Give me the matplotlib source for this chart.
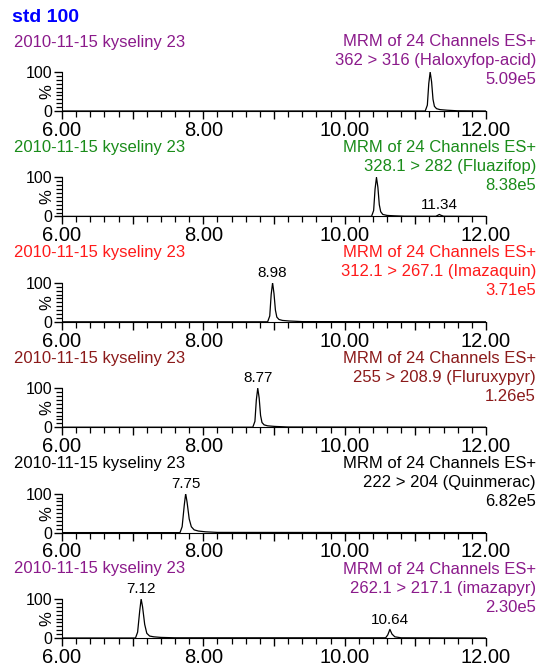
import matplotlib
matplotlib.use('Agg')
import matplotlib.pyplot as plt
from matplotlib.ticker import MultipleLocator, FixedLocator

plt.rcParams['font.family'] = ['Liberation Sans', 'DejaVu Sans']

sample_title = 'std 100'
run_name = '2010-11-15 kyseliny 23'
scan_text = 'MRM of 24 Channels ES+'

transitions = ['362 > 316 (Haloxyfop-acid)', '328.1 > 282 (Fluazifop)',
               '312.1 > 267.1 (Imazaquin)', '255 > 208.9 (Fluruxypyr)',
               '222 > 204 (Quinmerac)', '262.1 > 217.1 (imazapyr)']
intensities = ['5.09e5', '8.38e5', '3.71e5', '1.26e5', '6.82e5', '2.30e5']
colors = ['#8b1a8b', '#1a8c1a', '#ff1a1a', '#8b1a1a', '#000000', '#8b1a8b']

# retention time (min) and relative intensity (%) of each trace
trace_times = [
    [6.00, 11.14, 11.17, 11.19, 11.21, 11.23, 11.25, 11.27, 11.30, 11.35, 11.45, 11.60, 12.00],
    [6.00, 10.38, 10.41, 10.43, 10.45, 10.47, 10.49, 10.51, 10.54, 10.60, 10.70, 10.85,
     11.29, 11.32, 11.34, 11.36, 11.40, 12.00],
    [6.00, 8.91, 8.94, 8.96, 8.98, 9.00, 9.02, 9.04, 9.07, 9.12, 9.22, 9.40, 12.00],
    [6.00, 8.70, 8.73, 8.75, 8.77, 8.79, 8.81, 8.83, 8.86, 8.91, 9.01, 9.20, 12.00],
    [6.00, 7.67, 7.70, 7.73, 7.75, 7.77, 7.80, 7.83, 7.87, 7.93, 8.03, 8.20, 12.00],
    [6.00, 7.04, 7.07, 7.10, 7.12, 7.14, 7.17, 7.20, 7.24, 7.30, 7.40, 7.60,
     10.58, 10.61, 10.64, 10.67, 10.71, 10.80, 12.00],
]
trace_values = [
    [0, 0, 15, 70, 100, 75, 30, 12, 6, 3.5, 2, 0.5, 0],
    [0, 0, 15, 70, 100, 75, 30, 12, 5, 2.5, 1.5, 0.5, 0.3, 3, 5, 3, 0.5, 0],
    [0, 0, 15, 70, 100, 72, 30, 12, 6, 3.5, 2, 0.5, 0],
    [0, 0, 15, 70, 100, 75, 30, 12, 6, 3.5, 2, 0.5, 0],
    [0, 0, 15, 70, 100, 78, 35, 15, 7, 4, 2, 0.5, 0],
    [0, 0, 15, 70, 100, 80, 35, 12, 5, 3, 1.5, 0.5, 0.5, 8, 22, 10, 3, 0.5, 0],
]
# labelled peaks per trace: (time, height)
peak_labels = [
    [],
    [(11.34, 5)],
    [(8.98, 100)],
    [(8.77, 100)],
    [(7.75, 100)],
    [(7.12, 100), (10.64, 22)],
]

W, H = 538, 668
fig = plt.figure(figsize=(W / 100, H / 100), dpi=100)

x0, x1 = 62, 486
step = 105.4
fs = 12

fig.text(12 / W, 1 - 18 / H, sample_title, color='#0000ff', fontsize=14,
         fontweight='bold', va='center', ha='left')

for i in range(6):
    base = 111 + i * step
    top = base - 39
    ax = fig.add_axes([x0 / W, 1 - base / H, (x1 - x0) / W, (base - top) / H])
    ax.plot(trace_times[i], trace_values[i], color='black', lw=0.9)
    ax.set_xlim(6, 12)
    ax.set_ylim(0, 100)
    ax.spines['top'].set_visible(False)
    ax.spines['right'].set_visible(False)
    ax.patch.set_visible(False)

    ax.xaxis.set_major_locator(FixedLocator([6, 7, 8, 9, 10, 11, 12]))
    ax.set_xticklabels(['6.00', '', '8.00', '', '10.00', '', '12.00'])
    ax.xaxis.set_minor_locator(MultipleLocator(0.2))
    ax.yaxis.set_major_locator(FixedLocator([0, 100]))
    ax.yaxis.set_minor_locator(MultipleLocator(10))
    ax.tick_params(axis='both', which='major', length=6, width=1.0, pad=1)
    ax.tick_params(axis='x', which='major', labelsize=14.5)
    ax.tick_params(axis='y', which='major', labelsize=11.5)
    ax.tick_params(axis='both', which='minor', length=4, width=0.9)
    ax.set_ylabel('%', fontsize=12)
    ax.yaxis.set_label_coords(-0.018, 0.5)

    for t, h in peak_labels[i]:
        ax.annotate(f'{t:.2f}', (t, h), xytext=(0, 2), textcoords='offset points',
                    ha='center', va='bottom', fontsize=11, color='black',
                    annotation_clip=False)

    y1 = 42 + i * step
    fig.text(14 / W, 1 - y1 / H, run_name, color=colors[i], fontsize=fs,
             ha='left', va='center')
    fig.text(536 / W, 1 - y1 / H, scan_text, color=colors[i], fontsize=fs,
             ha='right', va='center')
    fig.text(536 / W, 1 - (y1 + 19) / H, transitions[i], color=colors[i],
             fontsize=fs, ha='right', va='center')
    fig.text(536 / W, 1 - (y1 + 38) / H, intensities[i], color=colors[i],
             fontsize=fs, ha='right', va='center')

fig.savefig('out.png', dpi=100)
